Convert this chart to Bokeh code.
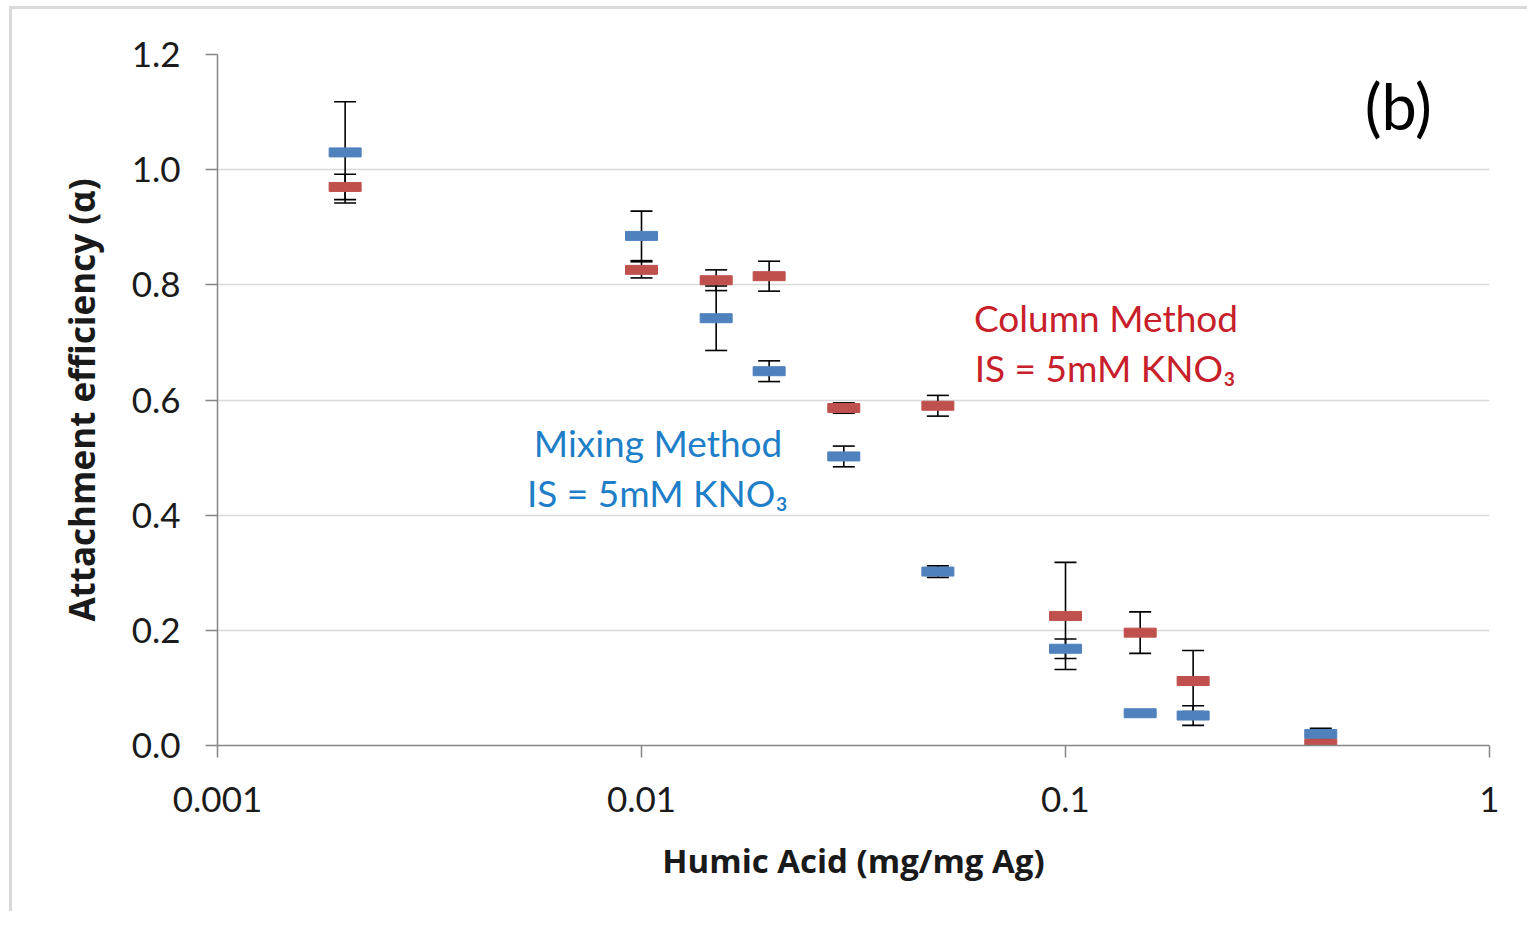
from bokeh.plotting import figure
from bokeh.models import (ColumnDataSource, Range1d, FixedTicker, CustomJSTickFormatter,
                          Whisker, TeeHead, Label)
from bokeh.embed import file_html
from bokeh.resources import INLINE

# ---- data ----
humic_acid = [0.002, 0.01, 0.015, 0.02, 0.03, 0.05, 0.1, 0.15, 0.2, 0.4]
mixing_alpha = [1.03, 0.885, 0.742, 0.650, 0.502, 0.302, 0.168, 0.056, 0.052, 0.020]
mixing_err = [0.088, 0.043, 0.056, 0.018, 0.018, 0.010, 0.017, 0.0, 0.017, 0.010]
column_alpha = [0.970, 0.826, 0.808, 0.815, 0.586, 0.590, 0.225, 0.196, 0.112, 0.003]
column_err = [0.022, 0.014, 0.018, 0.026, 0.009, 0.018, 0.093, 0.036, 0.053, 0.003]
x_ticks = [0.001, 0.01, 0.1, 1]
y_ticks = [0.0, 0.2, 0.4, 0.6, 0.8, 1.0, 1.2]

BLUE = "#4F81BD"
RED = "#C0504D"
FONT = "Lato"

p = figure(width=1518, height=905, x_axis_type="log",
           x_range=Range1d(0.001, 1), y_range=Range1d(0, 1.2),
           output_backend="svg", toolbar_location=None,
           min_border_left=205, min_border_right=41,
           min_border_top=45, min_border_bottom=169)
p.styles = {"border-left": "3px solid #d9d9d9", "border-top": "3px solid #d9d9d9",
            "margin-left": "9px", "margin-top": "6px"}
p.outline_line_color = None
p.background_fill_color = "white"
p.border_fill_color = "white"

# grid
p.xgrid.grid_line_color = None
p.ygrid.grid_line_color = "#d9d9d9"
p.ygrid.grid_line_width = 1.5

# axes
p.xaxis.ticker = FixedTicker(ticks=x_ticks, minor_ticks=[])
p.yaxis.ticker = FixedTicker(ticks=y_ticks, minor_ticks=[])
p.xaxis.formatter = CustomJSTickFormatter(code="return tick.toString();")
p.yaxis.formatter = CustomJSTickFormatter(code="return tick.toFixed(1);")
for ax in (p.xaxis[0], p.yaxis[0]):
    ax.axis_line_color = "#868686"
    ax.axis_line_width = 1.5
    ax.major_tick_line_color = "#868686"
    ax.major_tick_line_width = 1.5
    ax.major_tick_out = 12
    ax.major_tick_in = 0
    ax.minor_tick_line_color = None
    ax.major_label_text_font = FONT
    ax.major_label_text_font_size = "35px"
    ax.major_label_text_color = "#1a1a1a"
    ax.axis_label_text_font_style = "bold"
    ax.axis_label_text_color = "#1a1a1a"

p.xaxis.axis_label = "Humic Acid (mg/mg Ag)"
p.xaxis.axis_label_text_font = "Open Sans"
p.xaxis.axis_label_text_font_size = "33px"
p.xaxis.major_label_standoff = 29
p.xaxis.axis_label_standoff = 23

p.yaxis.axis_label = "Attachment efficiency (α)"
p.yaxis.axis_label_text_font = "Open Sans"
p.yaxis.axis_label_text_font_size = "35px"
p.yaxis.major_label_standoff = 25
p.yaxis.axis_label_standoff = 24

# sources
mix_src = ColumnDataSource(dict(x=humic_acid, y=mixing_alpha,
                                upper=[a + e for a, e in zip(mixing_alpha, mixing_err)],
                                lower=[a - e for a, e in zip(mixing_alpha, mixing_err)]))
col_src = ColumnDataSource(dict(x=humic_acid, y=column_alpha,
                                upper=[a + e for a, e in zip(column_alpha, column_err)],
                                lower=[a - e for a, e in zip(column_alpha, column_err)]))

# error bars
for src in (mix_src, col_src):
    w = Whisker(source=src, base="x", upper="upper", lower="lower",
                line_color="black", line_width=1.6,
                upper_head=TeeHead(size=22, line_color="black", line_width=1.6),
                lower_head=TeeHead(size=22, line_color="black", line_width=1.6),
                level="underlay")
    p.add_layout(w)

# markers (dash-like rectangles)
p.rect(x="x", y="y", width=32, height=9, width_units="screen", height_units="screen",
       source=mix_src, fill_color=BLUE, line_color=BLUE, line_width=1)
p.rect(x="x", y="y", width=32, height=9, width_units="screen", height_units="screen",
       source=col_src, fill_color=RED, line_color=RED, line_width=1)

# annotations
TXT_RED = "#C8202A"
TXT_BLUE = "#1E7FC8"
labels = [
    (0.1246, 0.744, "Column Method", TXT_RED, "37px"),
    (0.1240, 0.656, "IS = 5mM KNO₃", TXT_RED, "37px"),
    (0.01094, 0.527, "Mixing Method", TXT_BLUE, "37px"),
    (0.0109, 0.439, "IS = 5mM KNO₃", TXT_BLUE, "37px"),
    (0.609, 1.111, "(b)", "#000000", "63px"),
]
for lx, ly, t, c, fs in labels:
    p.add_layout(Label(x=lx, y=ly, text=t, text_color=c, text_font=FONT,
                       text_font_size=fs, text_align="center", text_baseline="middle"))

open("out.html", "w").write(file_html(p, INLINE))
